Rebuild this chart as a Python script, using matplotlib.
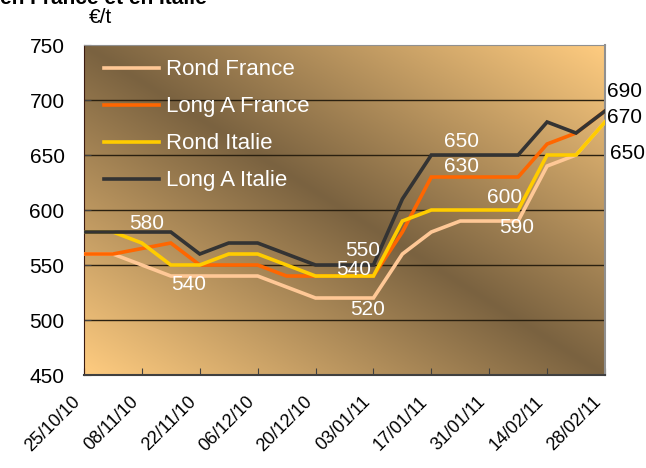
import numpy as np
import matplotlib
matplotlib.use('Agg')
import matplotlib.pyplot as plt
from matplotlib.colors import to_rgb
import matplotlib.transforms as mtransforms

plt.rcParams['font.family'] = ['Liberation Sans', 'DejaVu Sans']

# weekly dates (one point per week)
weeks = ['25/10/10', '01/11/10', '08/11/10', '15/11/10', '22/11/10', '29/11/10',
         '06/12/10', '13/12/10', '20/12/10', '27/12/10', '03/01/11', '10/01/11',
         '17/01/11', '24/01/11', '31/01/11', '07/02/11', '14/02/11', '21/02/11',
         '28/02/11']

rond_france = [560, 560, 550, 540, 540, 540, 540, 530, 520, 520, 520, 560, 580, 590, 590, 590, 640, 650, 680]
long_a_france = [560, 560, 565, 570, 550, 550, 550, 540, 540, 540, 540, 580, 630, 630, 630, 630, 660, 670, 690]
rond_italie = [580, 580, 570, 550, 550, 560, 560, 550, 540, 540, 540, 590, 600, 600, 600, 600, 650, 650, 680]
long_a_italie = [580, 580, 580, 580, 560, 570, 570, 560, 550, 550, 550, 610, 650, 650, 650, 650, 680, 670, 690]

series_names = ['Rond France', 'Long A France', 'Rond Italie', 'Long A Italie']
series_colors = ['#FFC896', '#FF6600', '#FFCC00', '#333333']

# data labels inside the plot (x index, y value, text)
inner_labels = [(2.16, 588, '580'), (3.63, 532, '540'), (9.64, 563, '550'),
                (9.30, 546, '540'), (9.81, 510, '520'), (13.03, 662, '650'),
                (13.06, 640, '630'), (14.53, 611, '600'), (14.94, 584, '590')]
# labels right of the plot
outer_labels = [(18.07, 708, '690'), (18.07, 684, '670'), (18.18, 651, '650')]

fig = plt.figure(figsize=(6.46, 4.68), dpi=100)
ax = fig.add_axes([0.130, 0.1987, 0.8065, 0.7051])

x = np.arange(len(weeks))
ax.set_xlim(0, len(weeks) - 1)
ax.set_ylim(450, 750)

# gradient background: light at bottom-left and top-right, dark on the other diagonal
n = 300
xn, yn = np.meshgrid(np.linspace(0, 1, n), np.linspace(1, 0, n))
t = np.abs(xn + yn - 1)
dark = np.array(to_rgb('#7A6240'))
light = np.array(to_rgb('#FFCC80'))
img = dark + (light - dark) * t[..., None]
ax.imshow(img, extent=[0, len(weeks) - 1, 450, 750], aspect='auto', zorder=0)

for yv in [500, 550, 600, 650, 700]:
    ax.axhline(yv, color='#2a2010', lw=1, zorder=1)

data = [rond_france, long_a_france, rond_italie, long_a_italie]
for vals, name, col in zip(data, series_names, series_colors):
    ax.plot(x, vals, color=col, lw=2.6, label=name, zorder=3, solid_joinstyle='miter')

for xi, yv, s in inner_labels:
    ax.text(xi, yv, s, color='white', fontsize=15, ha='center', va='center', zorder=4)
for xi, yv, s in outer_labels:
    ax.text(xi, yv, s, color='black', fontsize=15, ha='left', va='center', clip_on=False)

ax.set_xticks(x[::2])
ax.set_xticklabels(weeks[::2], rotation=45, ha='right', fontsize=13)
offset = mtransforms.ScaledTranslation(-15 / 100, 0, fig.dpi_scale_trans)
for lab in ax.get_xticklabels():
    lab.set_transform(lab.get_transform() + offset)
ax.set_yticks([450, 500, 550, 600, 650, 700, 750])
ax.tick_params(axis='x', direction='in', length=5, pad=13, color='#404040')
ax.tick_params(axis='y', direction='in', length=5, labelsize=15, pad=14, color='#404040')

ax.spines['left'].set_color('#3a1a10')
ax.spines['bottom'].set_color('#404040')
ax.spines['bottom'].set_linewidth(1.5)
ax.spines['top'].set_color('#909090')
ax.spines['right'].set_color('#909090')
ax.spines['right'].set_linewidth(1.5)

leg = ax.legend(loc='upper left', bbox_to_anchor=(0.01, 1.0), frameon=False,
                fontsize=16, handlelength=2.5, handletextpad=0.3, labelspacing=0.72,
                borderaxespad=0.25)
for txt in leg.get_texts():
    txt.set_color('white')

fig.text(0.155, 0.962, '€/t', fontsize=15, ha='center', va='center')
fig.text(0.0, 0.9915, 'en France et en Italie', fontsize=15, fontweight='bold',
         ha='left', va='baseline')

fig.savefig('out.png', dpi=100)
